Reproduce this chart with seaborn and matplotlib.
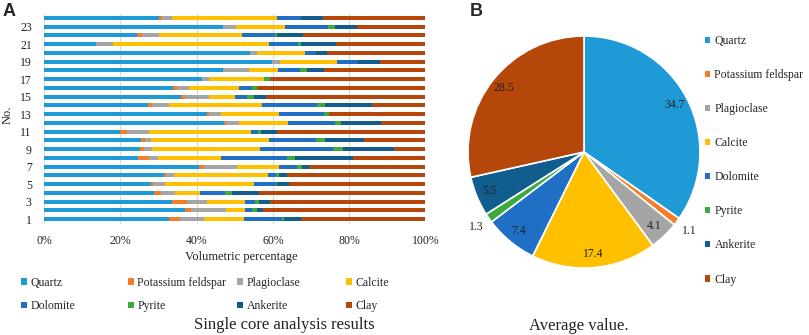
import numpy as np
import pandas as pd
import matplotlib
matplotlib.use('Agg')
import matplotlib.pyplot as plt
from matplotlib.patches import Patch
import seaborn as sns

# sample numbers, bottom (1) to top (24)
samples = [str(i) for i in range(1, 25)]
minerals = ['Quartz', 'Potassium feldspar', 'Plagioclase', 'Calcite',
            'Dolomite', 'Pyrite', 'Ankerite', 'Clay']
colors = ['#1E9BD7', '#F57D27', '#A5A5A5', '#FFC000',
          '#1F6FC5', '#3CAA3C', '#115E8E', '#B5470B']

# volumetric percentages per sample
quartz = [32.8, 36.9, 33.6, 28.8, 28.0, 31.4, 40.5, 24.5, 25.1, 25.5, 19.9, 47.2,
          42.8, 27.2, 35.9, 33.9, 41.3, 47.0, 59.8, 54.1, 13.7, 24.4, 46.8, 30.1]
k_feldspar = [2.7, 1.6, 3.9, 1.9, 0.6, 0.5, 1.4, 3.0, 1.1, 0.9, 1.7, 0.5,
              0.5, 1.0, 0.9, 1.0, 0.0, 0.0, 0.0, 0.0, 0.0, 1.3, 0.0, 0.9]
plagioclase = [6.5, 9.3, 5.2, 3.6, 3.1, 2.1, 8.7, 2.4, 2.0, 1.6, 5.8, 3.4,
               3.1, 4.6, 6.3, 3.1, 2.0, 6.6, 2.1, 1.6, 4.4, 4.3, 3.4, 2.4]
calcite = [10.3, 5.0, 10.0, 6.6, 23.3, 24.7, 11.0, 16.5, 28.3, 30.9, 26.8, 12.9,
           15.3, 24.4, 7.0, 13.1, 14.3, 7.7, 14.8, 12.6, 40.9, 21.8, 13.1, 27.8]
dolomite = [10.0, 1.7, 2.5, 6.6, 5.7, 2.1, 4.8, 17.3, 19.2, 12.3, 1.9, 12.2,
            11.6, 14.4, 3.1, 3.3, 0.0, 5.9, 5.7, 3.0, 7.7, 8.7, 11.2, 6.1]
pyrite = [0.7, 1.3, 1.1, 1.8, 0.5, 0.8, 1.3, 2.0, 2.6, 2.6, 0.9, 1.8,
          1.3, 2.2, 1.9, 1.3, 1.7, 1.7, 0.0, 0.0, 0.7, 0.7, 1.7, 0.0]
ankerite = [4.5, 1.7, 2.9, 7.1, 3.1, 2.0, 1.9, 15.2, 13.4, 10.1, 4.2, 10.3,
            0.0, 12.2, 3.1, 0.0, 0.0, 4.5, 5.8, 2.8, 9.2, 6.6, 5.8, 5.9]
clay = [32.5, 42.4, 40.8, 43.7, 35.6, 36.4, 30.3, 19.0, 8.1, 16.0, 38.8, 11.6,
        25.3, 14.0, 41.8, 44.3, 40.6, 26.7, 11.8, 26.0, 23.4, 32.2, 17.9, 26.7]

# average composition (pie)
avg_values = [34.7, 1.1, 4.1, 17.4, 7.4, 1.3, 5.5, 28.5]

sns.set_theme(style='white')
plt.rcParams['font.family'] = ['Liberation Serif', 'DejaVu Serif']

df = pd.DataFrame({'No.': samples, 'Quartz': quartz, 'Potassium feldspar': k_feldspar,
                   'Plagioclase': plagioclase, 'Calcite': calcite, 'Dolomite': dolomite,
                   'Pyrite': pyrite, 'Ankerite': ankerite, 'Clay': clay})
cum = df[minerals].cumsum(axis=1)
cum['No.'] = df['No.']

fig = plt.figure(figsize=(8.09, 3.35), dpi=100)
H = 335.0
W = 809.0

# ---- panel A: stacked bars ----
ax = fig.add_axes([44.3 / W, 1 - 223.5 / H, 381 / W, 210 / H])
order = samples[::-1]  # sample 24 at the top
for m, c in zip(minerals[::-1], colors[::-1]):
    sns.barplot(data=cum, x=m, y='No.', order=order, color=c, width=0.45,
                orient='h', linewidth=0, saturation=1, ax=ax)
ax.set_xlim(0, 100)
ax.set_xticks(range(0, 101, 20))
ax.set_xticklabels([f'{v}%' for v in range(0, 101, 20)])
ax.xaxis.grid(True, color='#D9D9D9', linewidth=0.8)
ax.set_axisbelow(True)
odd_pos = [i for i, s in enumerate(order) if int(s) % 2 == 1]
ax.set_yticks(odd_pos)
ax.set_yticklabels([order[i] for i in odd_pos])
ax.tick_params(axis='x', length=0, pad=8, labelsize=8.5, labelcolor='#222222')
ax.tick_params(axis='y', length=0, pad=9, labelsize=8.5, labelcolor='#222222')
for s in ax.spines.values():
    s.set_visible(False)
ax.set_xlabel('Volumetric percentage', fontsize=9, color='#222222')
ax.xaxis.set_label_coords(0.517, -0.13)
ax.set_ylabel('No.', fontsize=9, color='#222222')
ax.yaxis.set_label_coords(-0.08, 0.52)

# legend under panel A: four evenly spaced columns
col_x = [21, 128, 237, 346]
for k, x in enumerate(col_x):
    idx = [k, k + 4]
    handles = [Patch(facecolor=colors[i], edgecolor='none', label=minerals[i]) for i in idx]
    fig.legend(handles=handles, loc='upper left', bbox_to_anchor=(x / W, 1 - 277 / H),
               frameon=False, fontsize=8.5, handlelength=0.5, handleheight=0.5,
               handletextpad=0.3, labelspacing=0.95, borderpad=0, borderaxespad=0)

fig.text(284 / W, 1 - 325 / H, 'Single core analysis results', ha='center', va='center',
         fontsize=12, color='#222222')
fig.text(3 / W, 1 - 11 / H, 'A', fontsize=13, fontweight='bold', va='center',
         family='Liberation Sans')

# ---- panel B: pie ----
R = 116
pax = fig.add_axes([(584 - R) / W, 1 - (152 + R) / H, 2 * R / W, 2 * R / H])
wedges, _ = pax.pie(avg_values, colors=colors, startangle=90, counterclock=False,
                    wedgeprops=dict(edgecolor='white', linewidth=1.2))
pax.set_xlim(-1, 1)
pax.set_ylim(-1, 1)
pax.set_aspect('equal')
for w, v in zip(wedges, avg_values):
    ang = np.deg2rad((w.theta1 + w.theta2) / 2)
    r = 1.13 if v < 2 else 0.88
    pax.text(r * np.cos(ang), r * np.sin(ang), f'{v}', ha='center', va='center',
             fontsize=8.5, color='#222222', clip_on=False)

pie_handles = [Patch(facecolor=c, edgecolor='none', label=m) for m, c in zip(minerals, colors)]
fig.legend(handles=pie_handles, loc='upper left', bbox_to_anchor=(705 / W, 1 - 35 / H),
           frameon=False, fontsize=8.5, handlelength=0.45, handleheight=0.45,
           handletextpad=0.35, labelspacing=1.87, borderpad=0, borderaxespad=0)

fig.text(579 / W, 1 - 326 / H, 'Average value.', ha='center', va='center',
         fontsize=12, color='#222222')
fig.text(470 / W, 1 - 11 / H, 'B', fontsize=13, fontweight='bold', va='center',
         family='Liberation Sans')

fig.savefig('out.png', dpi=100)
